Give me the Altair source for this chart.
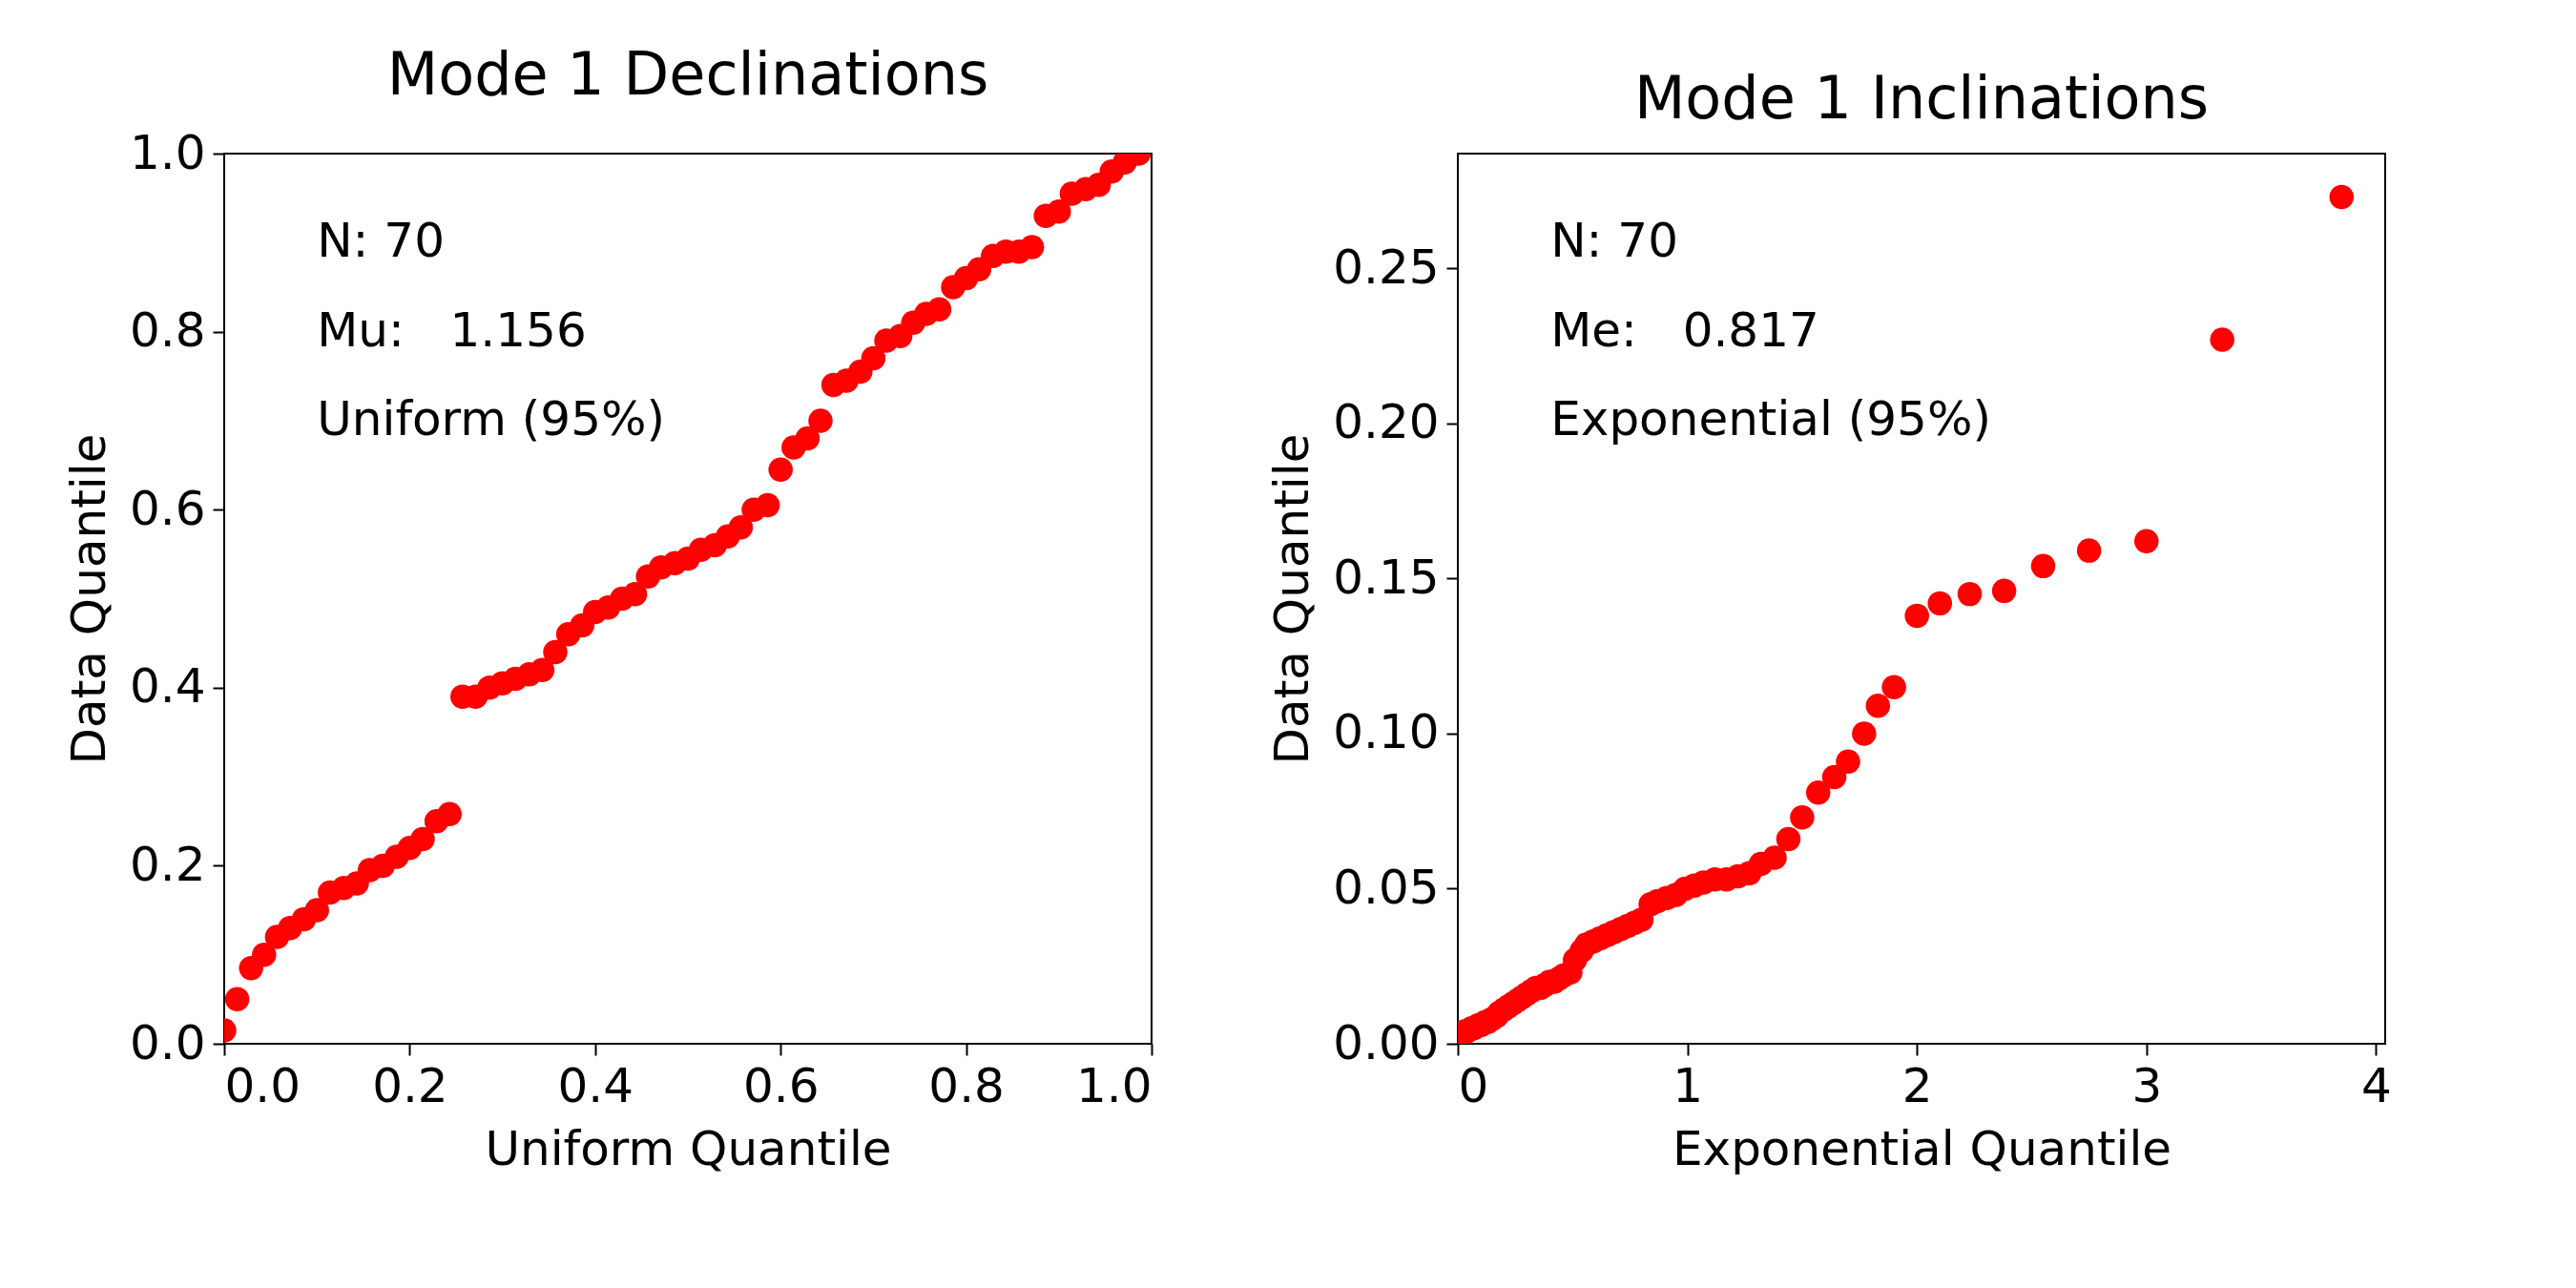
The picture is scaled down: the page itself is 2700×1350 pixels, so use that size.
import altair as alt
import pandas as pd

FONT = "DejaVu Sans"

# Mode 1 declinations vs uniform quantiles
dec_x = [0.0, 0.014, 0.029, 0.043, 0.057, 0.071, 0.086, 0.1, 0.114, 0.129,
         0.143, 0.157, 0.171, 0.186, 0.2, 0.214, 0.229, 0.243, 0.257, 0.271,
         0.286, 0.3, 0.314, 0.329, 0.343, 0.357, 0.371, 0.386, 0.4, 0.414,
         0.429, 0.443, 0.457, 0.471, 0.486, 0.5, 0.514, 0.529, 0.543, 0.557,
         0.571, 0.586, 0.6, 0.614, 0.629, 0.643, 0.657, 0.671, 0.686, 0.7,
         0.714, 0.729, 0.743, 0.757, 0.771, 0.786, 0.8, 0.814, 0.829, 0.843,
         0.857, 0.871, 0.886, 0.9, 0.914, 0.929, 0.943, 0.957, 0.971, 0.986]
dec_y = [0.015, 0.05, 0.085, 0.1, 0.12, 0.13, 0.14, 0.15, 0.17, 0.175,
         0.18, 0.195, 0.2, 0.21, 0.22, 0.23, 0.25, 0.258, 0.39, 0.39,
         0.4, 0.405, 0.41, 0.415, 0.42, 0.44, 0.46, 0.47, 0.485, 0.49,
         0.5, 0.505, 0.525, 0.535, 0.54, 0.545, 0.555, 0.56, 0.57, 0.58,
         0.6, 0.605, 0.645, 0.67, 0.68, 0.7, 0.74, 0.745, 0.755, 0.77,
         0.79, 0.795, 0.81, 0.82, 0.825, 0.85, 0.86, 0.87, 0.885, 0.89,
         0.89, 0.895, 0.93, 0.935, 0.955, 0.96, 0.965, 0.98, 0.99, 1.0]

# Mode 1 inclinations vs exponential quantiles
inc_x = [0.0, 0.014, 0.03, 0.04, 0.06, 0.07, 0.09, 0.1, 0.12, 0.13,
         0.15, 0.17, 0.18, 0.2, 0.22, 0.24, 0.26, 0.28, 0.3, 0.32,
         0.34, 0.36, 0.38, 0.4, 0.42, 0.44, 0.46, 0.49, 0.51, 0.54,
         0.56, 0.59, 0.62, 0.65, 0.68, 0.71, 0.74, 0.77, 0.8, 0.84,
         0.87, 0.91, 0.95, 0.99, 1.03, 1.07, 1.12, 1.17, 1.22, 1.27,
         1.32, 1.38, 1.44, 1.5, 1.57, 1.64, 1.7, 1.77, 1.83, 1.9,
         2.0, 2.1, 2.23, 2.38, 2.55, 2.75, 3.0, 3.33, 3.85, 0.005]
inc_y = [0.002, 0.003, 0.004, 0.004, 0.005, 0.005, 0.006, 0.006, 0.007, 0.007,
         0.008, 0.009, 0.01, 0.011, 0.012, 0.013, 0.014, 0.015, 0.016, 0.017,
         0.018, 0.018, 0.019, 0.02, 0.02, 0.021, 0.022, 0.023, 0.027, 0.03,
         0.032, 0.033, 0.034, 0.035, 0.036, 0.037, 0.038, 0.039, 0.04, 0.045,
         0.046, 0.047, 0.048, 0.05, 0.051, 0.052, 0.053, 0.053, 0.054, 0.055,
         0.058, 0.06, 0.066, 0.073, 0.081, 0.086, 0.091, 0.1, 0.109, 0.115,
         0.138, 0.142, 0.145, 0.146, 0.154, 0.159, 0.162, 0.227, 0.273, 0.003]

NBSP = "\u00a0"
dec_notes = ["N: 70", f"Mu:{NBSP * 3}1.156", "Uniform (95%)"]
inc_notes = ["N: 70", f"Me:{NBSP * 3}0.817", "Exponential (95%)"]

W, H = 972, 933


def qq_panel(xs, ys, notes, title, xtitle, xdom, ydom, xvals, yvals, yfmt, xfmt):
    data = pd.DataFrame({"x": xs, "y": ys})
    x = alt.X("x:Q", title=xtitle, scale=alt.Scale(domain=xdom, nice=False),
              axis=alt.Axis(values=xvals, format=xfmt))
    y = alt.Y("y:Q", title="Data Quantile", scale=alt.Scale(domain=ydom, nice=False),
              axis=alt.Axis(values=yvals, format=yfmt))
    pts = alt.Chart(data).mark_circle(color="#ff0000", opacity=1, size=650, clip=True).encode(x=x, y=y)
    span = ydom[1] - ydom[0]
    nd = pd.DataFrame({
        "x": [xdom[0] + 0.1 * (xdom[1] - xdom[0])] * 3,
        "y": [ydom[0] + f * span for f in (0.9, 0.8, 0.7)],
        "t": notes,
    })
    txt = alt.Chart(nd).mark_text(align="left", baseline="middle", font=FONT,
                                  fontSize=50, color="black").encode(x=x, y=y, text="t:N")
    return (pts + txt).properties(
        width=W, height=H,
        title=alt.TitleParams(title, font=FONT, fontSize=62, fontWeight="normal", offset=24),
    )


left = qq_panel(dec_x, dec_y, dec_notes, "Mode 1 Declinations", "Uniform Quantile",
                [0, 1], [0, 1], [0, 0.2, 0.4, 0.6, 0.8, 1.0],
                [0, 0.2, 0.4, 0.6, 0.8, 1.0], ".1f", ".1f")
right = qq_panel(inc_x, inc_y, inc_notes, "Mode 1 Inclinations", "Exponential Quantile",
                 [0, 4.04], [0, 0.287], [0, 1, 2, 3, 4],
                 [0, 0.05, 0.1, 0.15, 0.2, 0.25], ".2f", "d")

chart = alt.hconcat(left, right, spacing=120).configure(
    background="white", padding={"left": 60, "top": 40, "right": 40, "bottom": 20}
).configure_view(
    stroke="black", strokeWidth=2
).configure_axis(
    labelFont=FONT, titleFont=FONT, labelFontSize=50, titleFontSize=50,
    titleFontWeight="normal", labelColor="black", titleColor="black",
    grid=False, domain=False, tickColor="black",
    tickWidth=2, tickSize=12, labelPadding=8, titlePadding=16,
)

chart.save("out.html", embed_options={"renderer": "svg", "actions": False})
